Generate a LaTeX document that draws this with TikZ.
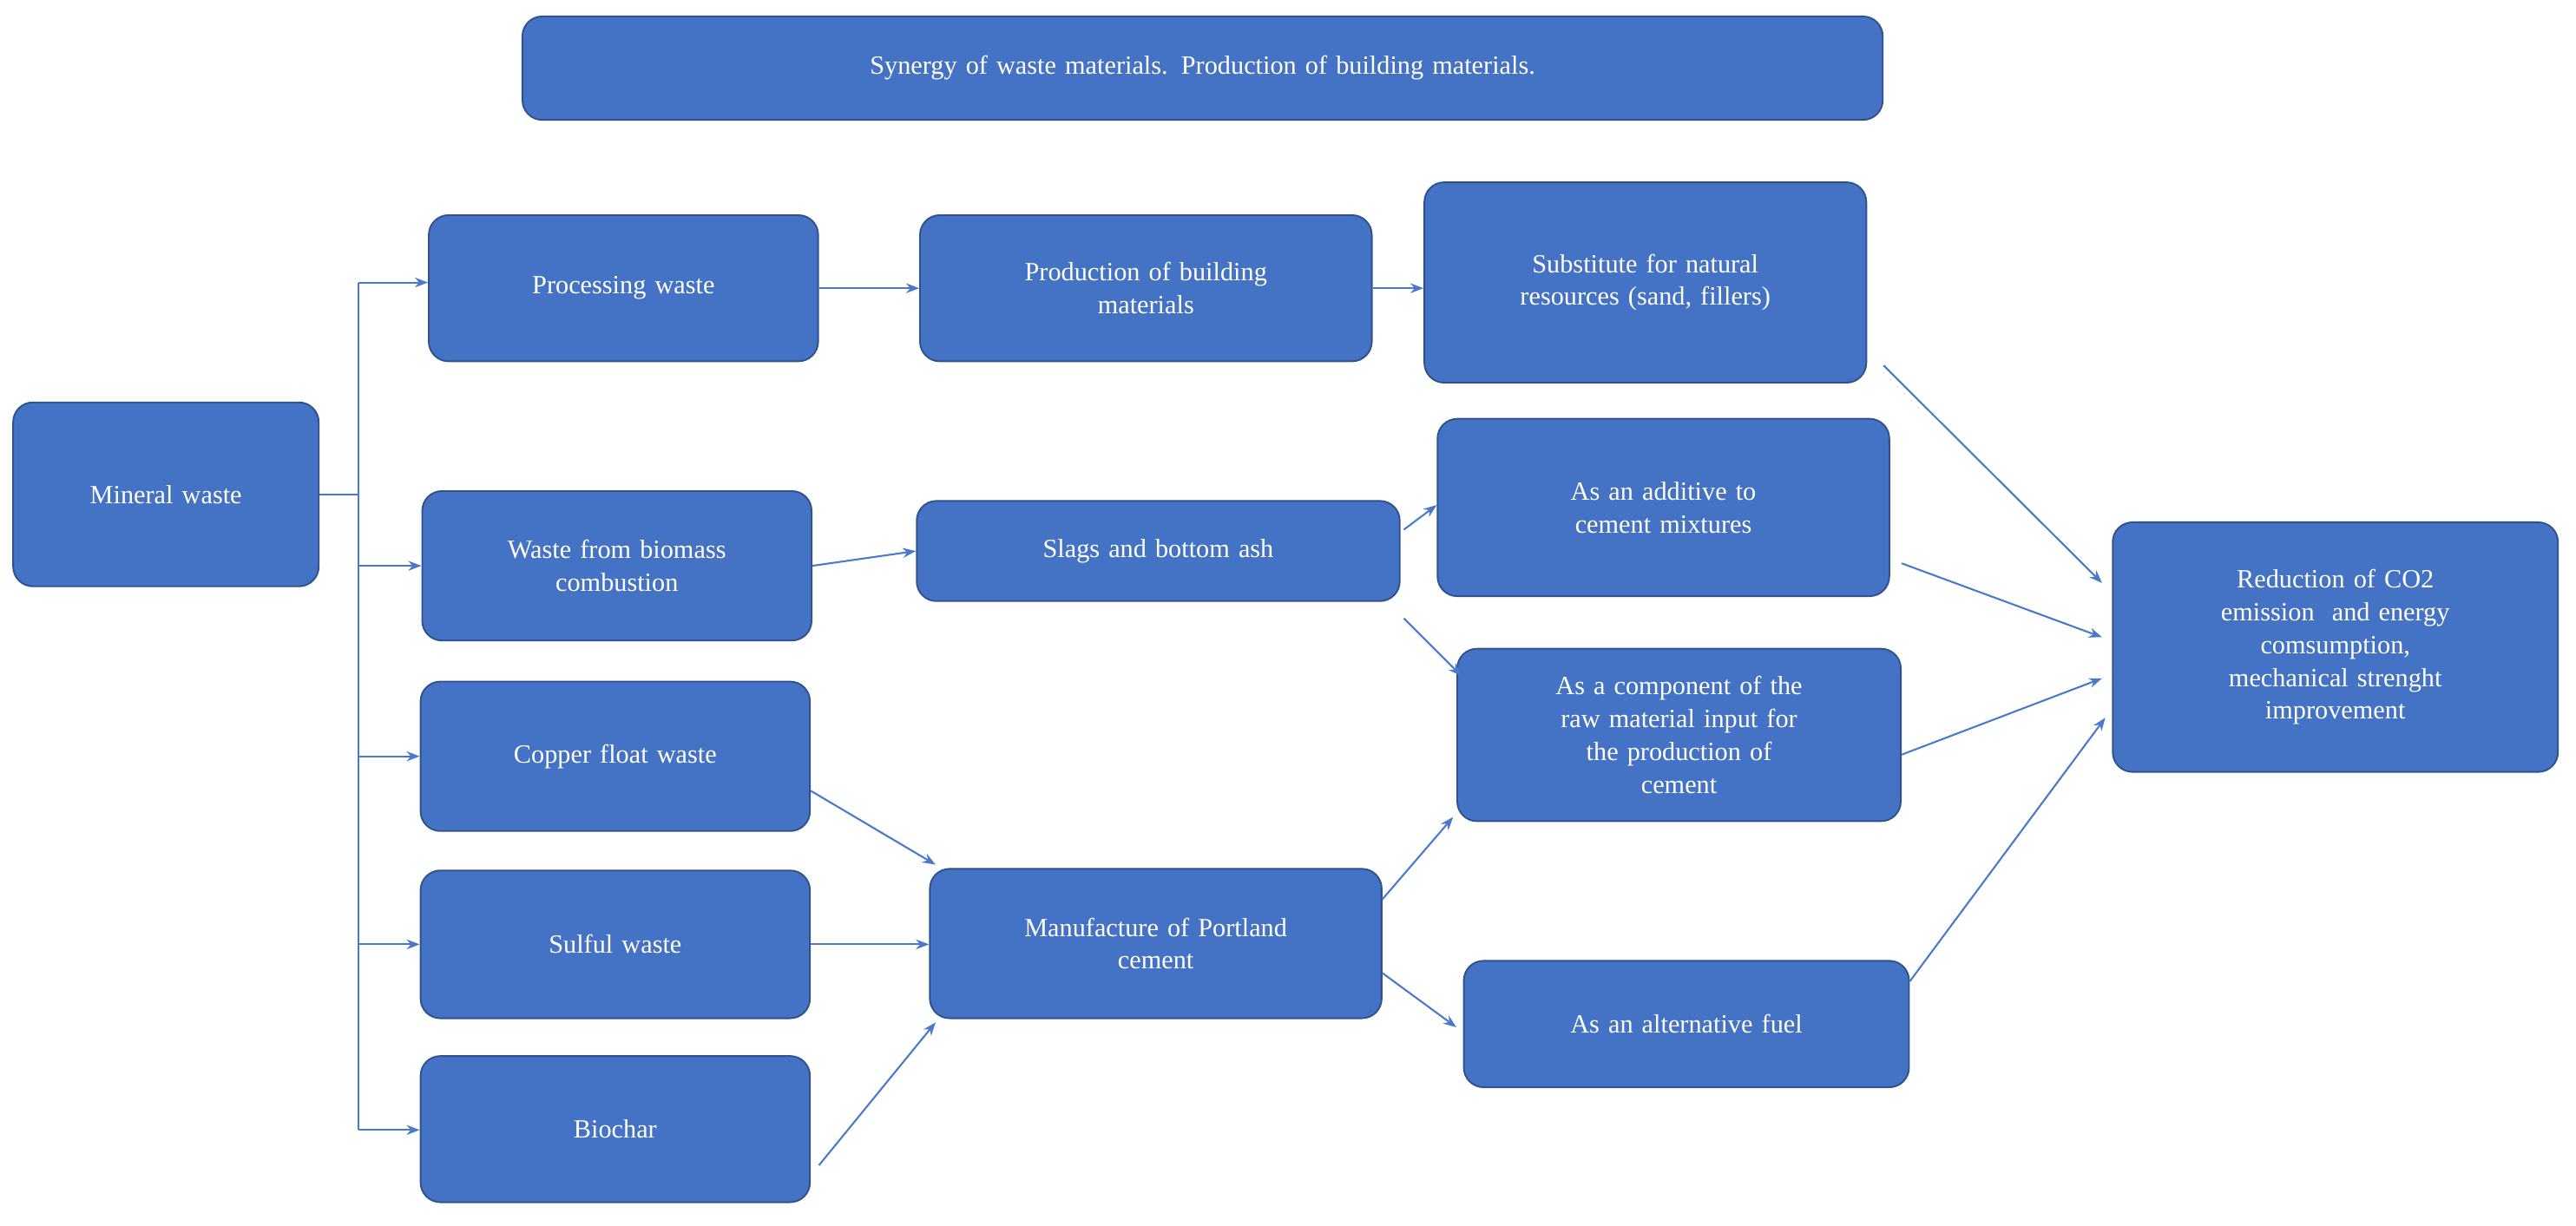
\documentclass[tikz,border=0pt]{standalone}
\usepackage{fontspec}
\setmainfont{Liberation Serif}
\usetikzlibrary{arrows.meta,calc}
\definecolor{bfill}{HTML}{4472C4}
\definecolor{bdraw}{HTML}{2F528F}
\definecolor{arr}{HTML}{4A78CC}
\begin{document}
\begin{tikzpicture}[x=1pt,y=-1pt,
 box/.style={draw=bdraw,line width=1pt,fill=bfill,rounded corners=12pt,text=white,align=center,font=\fontsize{16}{20}\selectfont,inner sep=2pt},
 arr/.style={draw=arr,line width=1.1pt,-{Stealth[length=8pt,width=6pt]}},
 ln/.style={draw=arr,line width=1.1pt}]
\useasboundingbox (0,0) rectangle (1568,746);
\newcommand{\bx}[6]{\node[box,minimum width=#4-#2,minimum height=#5-#3,text width=#4-#2-24] (#1) at ({(#2+#4)/2},{(#3+#5)/2}) {#6};}
\bx{title}{318}{10}{1146}{73}{Synergy of waste materials. Production of building materials.}
\bx{mw}{8}{245}{194}{357}{Mineral waste}
\bx{pw}{261}{131}{498}{220}{Processing waste}
\bx{pb}{560}{131}{835}{220}{Production of building\\materials}
\bx{sub}{867}{111}{1136}{233}{Substitute for natural\\resources (sand, fillers)}
\bx{bio}{257}{299}{494}{390}{Waste from biomass\\combustion}
\bx{slag}{558}{305}{852}{366}{Slags and bottom ash}
\bx{add}{875}{255}{1150}{363}{As an additive to\\cement mixtures}
\bx{comp}{887}{395}{1157}{500}{As a component of the\\raw material input for\\the production of\\cement}
\bx{cu}{256}{415}{493}{506}{Copper float waste}
\bx{sul}{256}{530}{493}{620}{Sulful waste}
\bx{man}{566}{529}{841}{620}{Manufacture of Portland\\cement}
\bx{bc}{256}{643}{493}{732}{Biochar}
\bx{fuel}{891}{585}{1162}{662}{As an alternative fuel}
\bx{red}{1286}{318}{1557}{470}{Reduction of CO2\\emission\ \ and energy\\comsumption,\\mechanical strenght\\improvement}
\coordinate (t1) at (218,172);
\coordinate (t2) at (218,688);
\draw[ln] (mw.east) -- (mw.east -| t1);
\draw[ln] (t1) -- (t2);
\draw[arr] (t1) -- (t1 -| pw.west);
\draw[arr] (t1 |- bio.west) -- (bio.west);
\draw[arr] (t1 |- cu.west) -- (cu.west);
\draw[arr] (t1 |- sul.west) -- (sul.west);
\draw[arr] (t2) -- (t2 -| bc.west);
\draw[arr] (pw.east) -- (pw.east -| pb.west);
\draw[arr] (pb.east) -- (pb.east -| sub.west);
\draw[arr] (bio.east) -- (slag.west);
\draw[arr] ($(slag.north east)+(2,18)$) -- ($(add.south west)+(0,-56)$);
\draw[arr] ($(slag.south east)+(2,10)$) -- ($(comp.north west)+(3,17)$);
\draw[arr] ($(cu.east)+(0,21)$) -- ($(man.north west)+(4,-2)$);
\draw[arr] (sul.east) -- (sul.east -| man.west);
\draw[arr] ($(bc.east)+(5,22)$) -- ($(man.south west)+(4,2)$);
\draw[arr] ($(man.east)+(0,-27)$) -- ($(comp.south west)+(-2,-3)$);
\draw[arr] ($(man.east)+(0,18)$) -- ($(fuel.west)+(-4,2)$);
\draw[arr] ($(sub.south east)+(10,-11)$) -- ($(red.west)+(-6,-39)$);
\draw[arr] ($(add.east)+(7,34)$) -- ($(red.west)+(-6,-6)$);
\draw[arr] ($(comp.east)+(0,12)$) -- ($(red.west)+(-6,19)$);
\draw[arr] ($(fuel.east)+(0,-26)$) -- ($(red.west)+(-4,43)$);
\end{tikzpicture}
\end{document}
